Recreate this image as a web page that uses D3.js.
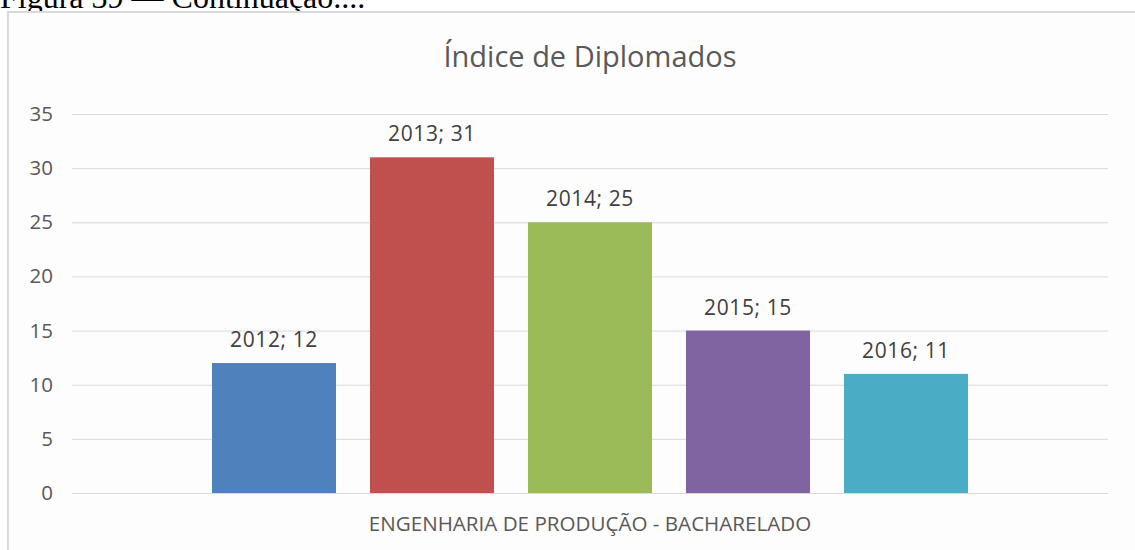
<!DOCTYPE html>
<html>
<head>
<meta charset="utf-8">
<script src="https://cdn.jsdelivr.net/npm/d3@7"></script>
<style>
  html, body { margin: 0; padding: 0; background: #ffffff; }
  svg { display: block; }
</style>
</head>
<body>
<svg id="chart" width="1135" height="550"></svg>
<script>
// Graduates per year, single course category
const category = "ENGENHARIA DE PRODUÇÃO - BACHARELADO";
const years = ["2012", "2013", "2014", "2015", "2016"];
const values = [12, 31, 25, 15, 11];
const colors = ["#4f81bd", "#c0504d", "#9bbb59", "#8064a2", "#4bacc6"];
const yTicks = [0, 5, 10, 15, 20, 25, 30, 35];

const svg = d3.select("#chart");
const W = 1135, H = 550;
const font = "'Open Sans', 'Noto Sans', sans-serif";

// Caption above the chart frame (only its lower part shows)
svg.append("text")
  .attr("x", 0).attr("y", 8)
  .attr("font-family", "'Liberation Serif', 'Times New Roman', serif")
  .attr("font-size", 32)
  .attr("fill", "#000")
  .text("Figura 39 — Continuação....");

// Chart frame
svg.append("rect")
  .attr("x", 8).attr("y", 12)
  .attr("width", W + 20).attr("height", H)
  .attr("fill", "#fdfdfd")
  .attr("stroke", "#d9d9d9").attr("stroke-width", 2);

const plot = { left: 72, right: 1108, top: 114, bottom: 493 };

const y = d3.scaleLinear().domain([0, 35]).range([plot.bottom, plot.top]);

const x0 = d3.scaleBand().domain([category])
  .range([plot.left, plot.right]).paddingInner(0).paddingOuter(0.1557);
const x1 = d3.scaleBand().domain(years)
  .range([0, x0.bandwidth()]).paddingInner(0.215).paddingOuter(0.1075);

// Title
svg.append("text")
  .attr("x", (plot.left + plot.right) / 2).attr("y", 67)
  .attr("text-anchor", "middle")
  .attr("font-family", font).attr("font-size", 29)
  .attr("fill", "#595959")
  .text("Índice de Diplomados");

// Y axis: gridlines and tick labels
const yAxis = d3.axisLeft(y).tickValues(yTicks)
  .tickSize(-(plot.right - plot.left)).tickPadding(19);
const gy = svg.append("g")
  .attr("transform", `translate(${plot.left},0)`)
  .call(yAxis);
gy.select(".domain").remove();
gy.selectAll(".tick line").attr("stroke", "#d9d9d9").attr("stroke-width", 1);
gy.selectAll(".tick text")
  .attr("font-family", font).attr("font-size", 20.5)
  .attr("fill", "#595959");

// Bars
const g = svg.append("g").attr("transform", `translate(${x0(category)},0)`);
const data = years.map((yr, i) => ({ year: yr, value: values[i], color: colors[i] }));

g.selectAll("rect.bar").data(data).join("rect")
  .attr("class", "bar")
  .attr("x", d => x1(d.year))
  .attr("width", x1.bandwidth())
  .attr("y", d => y(d.value))
  .attr("height", d => y(0) - y(d.value))
  .attr("fill", d => d.color);

// Data labels "year; value"
g.selectAll("text.lbl").data(data).join("text")
  .attr("class", "lbl")
  .attr("x", d => x1(d.year) + x1.bandwidth() / 2)
  .attr("y", d => y(d.value) - 16)
  .attr("text-anchor", "middle")
  .attr("font-family", font).attr("font-size", 21)
  .attr("letter-spacing", 0.6)
  .attr("fill", "#404040")
  .text(d => `${d.year}; ${d.value}`);

// Category axis label
svg.append("text")
  .attr("x", x0(category) + x0.bandwidth() / 2).attr("y", 531)
  .attr("text-anchor", "middle")
  .attr("font-family", font).attr("font-size", 20.6)
  .attr("fill", "#595959")
  .text(category);
</script>
</body>
</html>
